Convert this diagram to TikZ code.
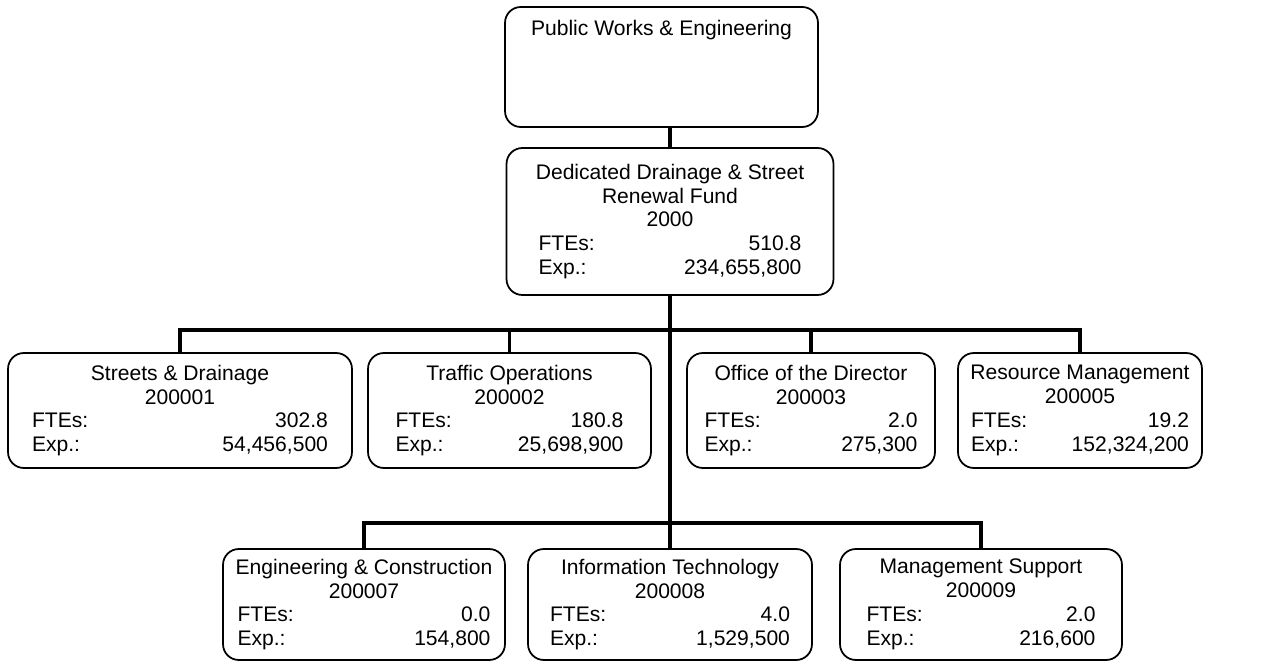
\documentclass[tikz,border=0pt]{standalone}
\usepackage{fontspec}
\setmainfont{Liberation Sans}
\usepackage{tikz}
\usetikzlibrary{positioning, calc}

% two right-aligned figure rows of a unit box
\newcommand{\fteexp}[3]{\makebox[#1]{FTEs:\hfill #2}\\\makebox[#1]{Exp.:\hfill #3}}

\begin{document}
\begin{tikzpicture}[
  x=0.02cm, y=-0.02cm,
  unit/.style={draw, line width=1pt, rounded corners=9pt, align=center,
    font=\fontsize{12}{13.6}\selectfont, inner sep=4pt},
  link/.style={line width=1.8pt}]
  \useasboundingbox (0,0) rectangle (1276,662);
  \node[unit, minimum width=6.26cm, minimum height=2.4cm, text height=0.42cm, text depth=1.7cm] (pwe) at (661.5,67) {Public Works \& Engineering};
  \node[unit, minimum width=6.54cm, minimum height=2.94cm] (fund) at (670,221.5)
    {Dedicated Drainage \& Street\\Renewal Fund\\2000\\\fteexp{5.26cm}{510.8}{234,655,800}};
  % first row
  \node[unit, minimum width=6.88cm, minimum height=2.3cm] (sd) at (180,410.5)
    {Streets \& Drainage\\200001\\\fteexp{5.92cm}{302.8}{54,456,500}};
  \node[unit, minimum width=5.66cm, minimum height=2.3cm] (to) at (509.5,410.5)
    {Traffic Operations\\200002\\\fteexp{4.56cm}{180.8}{25,698,900}};
  \node[unit, minimum width=4.96cm, minimum height=2.3cm] (od) at (811,410.5)
    {Office of the Director\\200003\\\fteexp{4.26cm}{2.0}{275,300}};
  \node[unit, minimum width=4.88cm, minimum height=2.3cm] (rm) at (1080,410.5)
    {Resource Management\\200005\\\fteexp{4.36cm}{19.2}{152,324,200}};
  % second row
  \node[unit, minimum width=5.64cm, minimum height=2.22cm] (ec) at (364,604.5)
    {Engineering \& Construction\\200007\\\fteexp{5.06cm}{0.0}{154,800}};
  \node[unit, minimum width=5.68cm, minimum height=2.22cm] (it) at (670,604.5)
    {Information Technology\\200008\\\fteexp{4.8cm}{4.0}{1,529,500}};
  \node[unit, minimum width=5.64cm, minimum height=2.22cm] (ms) at (981,604.5)
    {Management Support\\200009\\\fteexp{4.58cm}{2.0}{216,600}};
  \coordinate (bus1) at (670,330);
  \coordinate (bus2) at (670,523);
  \draw[link] (fund.north) -- (fund.north |- pwe.south);
  \draw[link] (fund.south) -- (it.north);
  \draw[link] (sd.north) |- (bus1) -| (rm.north);
  \draw[link] (to.north) -- (to.north |- bus1);
  \draw[link] (od.north) -- (od.north |- bus1);
  \draw[link] (ec.north) |- (bus2) -| (ms.north);
\end{tikzpicture}
\end{document}
